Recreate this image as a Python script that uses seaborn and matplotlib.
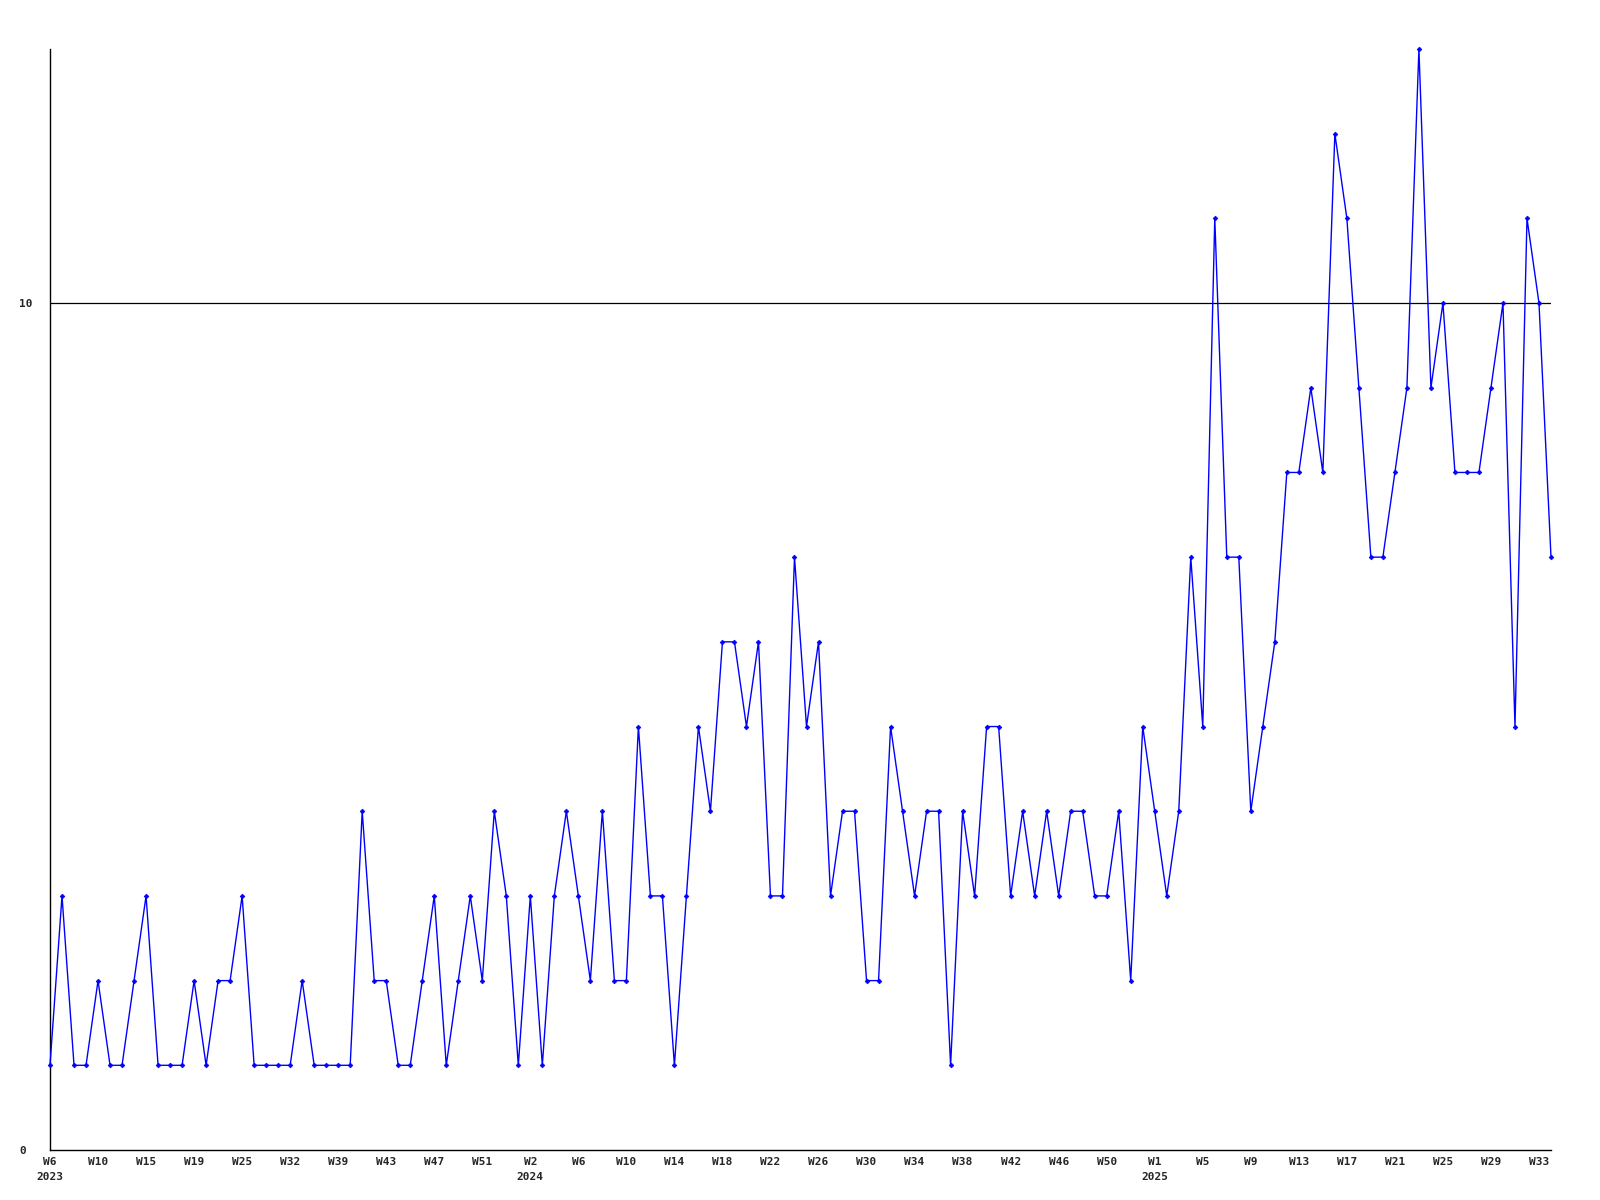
import matplotlib
matplotlib.use("Agg")
import matplotlib.pyplot as plt
import seaborn as sns
import pandas as pd
import numpy as np

# ---- data ----
values = [
    1, 3, 1, 1, 2, 1, 1, 2, 3, 1, 1, 1, 2, 1, 2, 2, 3, 1, 1, 1, 1, 2, 1, 1, 1, 1,
    4, 2, 2, 1, 1, 2, 3, 1, 2, 3, 2, 4, 3, 1, 3, 1, 3, 4, 3, 2, 4, 2, 2, 5, 3, 3,
    1, 3, 5, 4, 6, 6, 5, 6, 3, 3, 7, 5, 6, 3, 4, 4, 2, 2, 5, 4, 3, 4, 4, 1, 4,
    3, 5, 5, 3, 4, 3, 4, 3, 4, 4, 3, 3, 4, 2, 5, 4, 3, 4, 7, 5, 11, 7, 7, 4, 5,
    6, 8, 8, 9, 8, 12, 11, 9, 7, 7, 8, 9, 13, 9, 10, 8, 8, 8, 9, 10, 5, 11, 10, 7,
]
tick_labels = [
    "W6\n2023", "W10", "W15", "W19", "W25", "W32", "W39", "W43", "W47", "W51",
    "W2\n2024", "W6", "W10", "W14", "W18", "W22", "W26", "W30", "W34", "W38",
    "W42", "W46", "W50", "W1\n2025", "W5", "W9", "W13", "W17", "W21", "W25",
    "W29", "W33",
]
tick_step = 4
y_ticks = [0, 10]
y_tick_labels = ["0", "10"]

df = pd.DataFrame({"idx": np.arange(len(values)), "value": values})

sns.set_style("white")
plt.rcParams["font.family"] = ["DejaVu Sans Mono", "DejaVu Sans"]

fig = plt.figure(figsize=(16, 12), dpi=100)
ax = fig.add_axes([50 / 1600, 1 - 1150 / 1200, 1501 / 1600, (1150 - 49) / 1200])

ax.axhline(10, color="black", lw=0.9, zorder=1)

sns.lineplot(data=df, x="idx", y="value", ax=ax, color="#0000ff", lw=1.0,
             marker="D", markersize=2.4, markeredgewidth=0.5,
             markeredgecolor="#0000ff", clip_on=False, zorder=3)

ax.set_xlim(0, len(values) - 1)
ax.set_ylim(0, 13)

ax.set_xticks(np.arange(0, len(tick_labels) * tick_step, tick_step))
ax.set_xticklabels(tick_labels, fontsize=8, fontweight="bold", linespacing=1.65)
ax.set_yticks(y_ticks)
ax.set_yticklabels(y_tick_labels, fontsize=8, fontweight="bold")
for lab in ax.get_yticklabels():
    lab.set_horizontalalignment("left")
ax.tick_params(axis="y", length=0, pad=22)
ax.tick_params(axis="x", length=0, pad=5)

ax.set_xlabel("")
ax.set_ylabel("")
for s in ["top", "right"]:
    ax.spines[s].set_visible(False)
for s in ["left", "bottom"]:
    ax.spines[s].set_color("black")
    ax.spines[s].set_linewidth(1.0)

fig.savefig("out.png", dpi=100, facecolor="white")
